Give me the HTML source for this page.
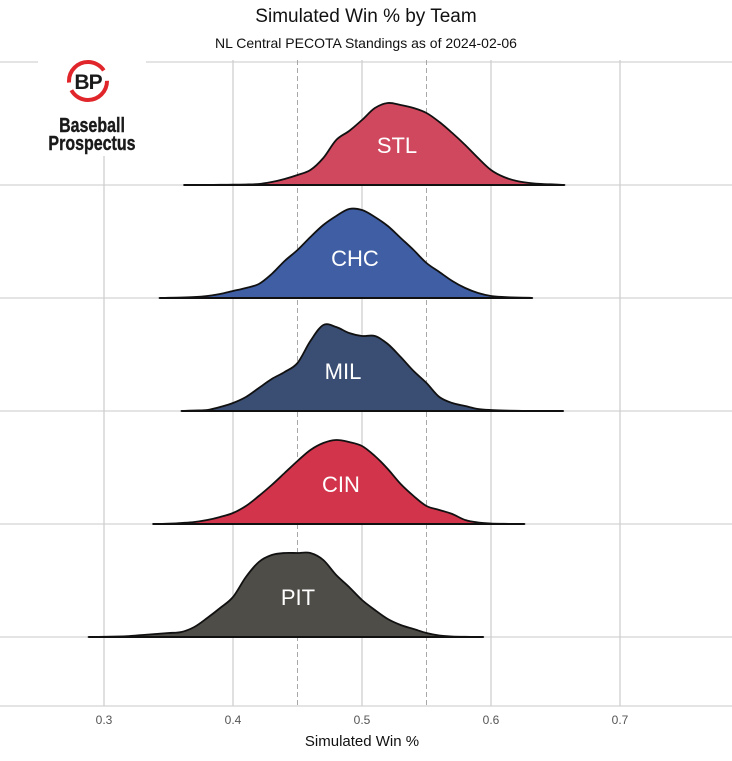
<!DOCTYPE html>
<html><head><meta charset="utf-8">
<style>
body{margin:0;background:#fff;}
svg{display:block;font-family:"Liberation Sans",sans-serif;}
</style></head>
<body>
<svg id="chart" width="732" height="761" viewBox="0 0 732 761" xmlns="http://www.w3.org/2000/svg">
  <text x="366" y="22" text-anchor="middle" font-size="19" fill="#111">Simulated Win % by Team</text>
  <text x="366" y="48" text-anchor="middle" font-size="14" fill="#111">NL Central PECOTA Standings as of 2024-02-06</text>
  <g id="grid"></g>
  <g id="ridges"></g>
  <g id="xaxis"></g>
  <text x="362" y="746" text-anchor="middle" font-size="15" fill="#111">Simulated Win %</text>
  <g>
    <rect x="38" y="58" width="108" height="98" fill="#fff"/>
    <circle cx="88" cy="81" r="19" fill="none" stroke="#e0262b" stroke-width="4" stroke-dasharray="50 8 50 11"/>
    <text x="88" y="89" text-anchor="middle" font-size="21" font-weight="bold" fill="#1a1a1a" letter-spacing="-1">BP</text>
    <text x="92" y="132" text-anchor="middle" font-size="20" font-weight="bold" fill="#1a1a1a" stroke="#1a1a1a" stroke-width="0.4" transform="translate(92 0) scale(0.8 1) translate(-92 0)">Baseball</text>
    <text x="92" y="150" text-anchor="middle" font-size="20" font-weight="bold" fill="#1a1a1a" stroke="#1a1a1a" stroke-width="0.4" transform="translate(92 0) scale(0.8 1) translate(-92 0)">Prospectus</text>
  </g>
</svg>
<script>
const teams = ["STL","CHC","MIL","CIN","PIT"];
const colors = ["#d0485e","#3f5ea4","#3a4d72","#d2344b","#4f4d48"];
const xTicks = [0.3,0.4,0.5,0.6,0.7];
const xTickLabels = ["0.3","0.4","0.5","0.6","0.7"];
const dashedRefs = [0.45,0.55];
const rangeStart = [0.362,0.343,0.360,0.338,0.288];
const rangeEnd = [0.657,0.632,0.656,0.626,0.594];
const gridStart = [0.36,0.34,0.36,0.33,0.28];
const stlDensity = [0,0.01,0.01,0.02,0.03,0.05,0.1,0.3,0.6,1.0,1.5,2.7,4.5,5.4,6.5,7.7,8.2,8.0,7.7,7.2,6.3,5.2,4.0,2.7,1.5,0.8,0.4,0.2,0.1,0.05,0];
const chcDensity = [0,0.02,0.05,0.1,0.2,0.4,0.7,1.0,1.4,2.4,3.7,4.8,6.1,7.3,8.2,8.9,8.8,8.1,7.2,6.0,4.8,3.5,2.6,1.7,1.0,0.5,0.2,0.1,0.05,0.02,0];
const milDensity = [0,0.05,0.1,0.4,0.8,1.4,2.3,3.2,3.9,4.8,7.0,8.6,8.4,7.8,7.5,7.5,6.7,5.4,4.0,2.8,1.4,0.8,0.5,0.2,0.1,0.05,0.02,0.01,0.01,0,0];
const cinDensity = [0,0,0.03,0.1,0.2,0.4,0.7,1.1,1.8,2.8,3.9,5.1,6.3,7.4,8.1,8.4,8.2,7.8,6.8,5.5,4.0,2.8,1.8,1.4,1.0,0.4,0.15,0.05,0.02,0.01];
const pitDensity = [0,0.01,0.02,0.05,0.1,0.2,0.3,0.4,0.5,1.0,1.9,2.9,4.0,6.0,7.5,8.2,8.4,8.4,8.4,7.7,6.2,5.0,3.7,2.7,1.8,1.2,0.8,0.4,0.15,0.05,0.02,0.01];
const densities = [stlDensity,chcDensity,milDensity,cinDensity,pitDensity];

const NS="http://www.w3.org/2000/svg";
const xScale = v => 104 + (v-0.3)*1290;
const baseY = i => 185 + i*113;
const hScale = d => d*10;
function mk(tag, attrs, parent){const e=document.createElementNS(NS,tag);for(const k in attrs)e.setAttribute(k,attrs[k]);parent.appendChild(e);return e;}

const grid=document.getElementById('grid');
const gl=[62].concat(teams.map((t,i)=>baseY(i))).concat([706]);
gl.forEach(y=>{const l=mk('line',{x1:0,x2:732,y1:y,y2:y,stroke:'#d4d4d4','stroke-width':1.2},grid);

});
xTicks.forEach(v=>{const l=mk('line',{x1:xScale(v),x2:xScale(v),y1:60,y2:706,stroke:'#cccccc','stroke-width':1.2},grid);

});
dashedRefs.forEach(v=>{const l=mk('line',{x1:xScale(v),x2:xScale(v),y1:60,y2:706,stroke:'#a8a8a8','stroke-width':1,'stroke-dasharray':'5 3'},grid);

});

const xa=document.getElementById('xaxis');
xTicks.forEach((v,i)=>{const t=mk('text',{x:xScale(v),y:724,'text-anchor':'middle','font-size':12,fill:'#555'},xa);t.textContent=xTickLabels[i];

});

function smooth(pts){let d=`M${pts[0][0]},${pts[0][1]}`;
for(let i=0;i<pts.length-1;i++){const p0=pts[Math.max(0,i-1)],p1=pts[i],p2=pts[i+1],p3=pts[Math.min(pts.length-1,i+2)];
const c1=[p1[0]+(p2[0]-p0[0])/6,p1[1]+(p2[1]-p0[1])/6],c2=[p2[0]-(p3[0]-p1[0])/6,p2[1]-(p3[1]-p1[1])/6];
d+=` C${c1[0].toFixed(1)},${c1[1].toFixed(1)} ${c2[0].toFixed(1)},${c2[1].toFixed(1)} ${p2[0].toFixed(1)},${p2[1].toFixed(1)}`;}
return d;}

const rg=document.getElementById('ridges');
teams.forEach((t,i)=>{
  const by=baseY(i);
  const pts=densities[i].map((d,j)=>[xScale(gridStart[i]+j*0.01),by-hScale(d)]);
  const x0=xScale(rangeStart[i]),x1=xScale(rangeEnd[i]);
  const inner=pts.filter(p=>p[0]>x0&&p[0]<x1);
  const all=[[x0,by]].concat(inner).concat([[x1,by]]);
  const d=smooth(all);
  const g=mk('g',{},rg);
  
  
  const p=mk('path',{d:d+' Z',fill:colors[i],stroke:'#111','stroke-width':1.8,'stroke-linejoin':'round'},g);
  
  
  const bl=mk('line',{x1:x0,x2:x1,y1:by,y2:by,stroke:'#111','stroke-width':2},g);
  
  
  const lx=[397,355,343,341,298][i];
  const lb=mk('text',{x:lx,y:by-32,'text-anchor':'middle','font-size':22,fill:'#fff'},g);
  lb.textContent=t;
  
  
});
</script>
</body></html>
